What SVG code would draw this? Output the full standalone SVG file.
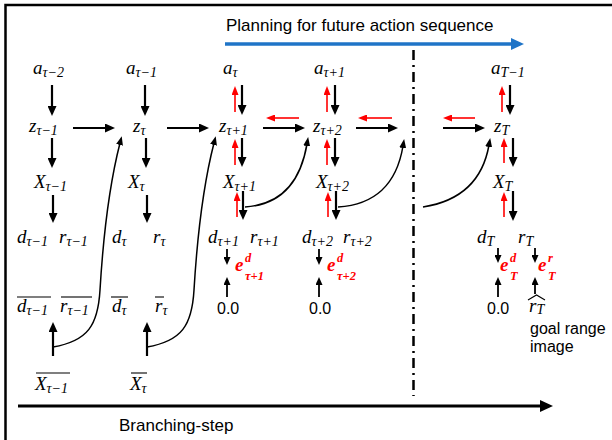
<svg xmlns="http://www.w3.org/2000/svg" width="612" height="440" viewBox="0 0 612 440">
<style>
.m{font-family:"Liberation Serif","Times New Roman",serif;font-style:italic;font-size:19px;fill:#000}
.s{font-size:14px}
.es{font-size:12.5px}
.red{fill:#ff0000}
.t{font-family:"Liberation Sans",Arial,sans-serif;font-size:16px;fill:#000}
.bk{stroke:#000;stroke-width:2.2;fill:none}
.sm{stroke:#000;stroke-width:1.8;fill:none}
.rd{stroke:#ff0000;stroke-width:1.6;fill:none}
.cv{stroke:#000;stroke-width:1.5;fill:none}
.ov{stroke:#000;stroke-width:1.1}
</style>
<defs>
<marker id="hb" markerUnits="userSpaceOnUse" viewBox="0 0 10 9" markerWidth="10" markerHeight="9" refX="2" refY="4.5" orient="auto"><path d="M0,0 L10,4.5 L0,9 z" fill="#000"/></marker>
<marker id="hr" markerUnits="userSpaceOnUse" viewBox="0 0 9 7" markerWidth="9" markerHeight="7" refX="2" refY="3.5" orient="auto"><path d="M0,0 L9,3.5 L0,7 z" fill="#ff0000"/></marker>
<marker id="hm" markerUnits="userSpaceOnUse" viewBox="0 0 8 7" markerWidth="8" markerHeight="7" refX="2" refY="3.5" orient="auto"><path d="M0,0 L8,3.5 L0,7 z" fill="#000"/></marker>
<marker id="hs" markerUnits="userSpaceOnUse" viewBox="0 0 9 7" markerWidth="9" markerHeight="7" refX="2" refY="3.5" orient="auto"><path d="M0,0 L9,3.5 L0,7 z" fill="#000"/></marker>
</defs>
<rect width="612" height="440" fill="#fff"/>
<path d="M5.5,440 V5 H612" stroke="#000" stroke-width="2.5" fill="none"/>

<g id="planning">
<text class="t" x="226" y="31" style="font-size:17px">Planning for future action sequence</text>
<line x1="225" y1="44" x2="512" y2="44" stroke="#1f74c7" stroke-width="3.5"/>
<polygon points="511,38 524,44 511,50" fill="#1f74c7"/>
</g>
<g id="branching">
<line x1="18" y1="406" x2="541" y2="406" stroke="#000" stroke-width="3"/>
<polygon points="540,400 553,406 540,412" fill="#000"/>
<text class="t" x="119" y="431" style="font-size:17px">Branching-step</text>
</g>
<g id="separator">
<line x1="413.5" y1="50" x2="413.5" y2="396" stroke="#000" stroke-width="2.5" stroke-dasharray="10 5 2 5"/>
</g>

<g id="a_tau-2"><text class="m" x="33" y="74">a<tspan class="s" dy="3">τ−2</tspan></text></g>
<g id="a_tau-1"><text class="m" x="126" y="74">a<tspan class="s" dy="3">τ−1</tspan></text></g>
<g id="a_tau"><text class="m" x="223" y="74">a<tspan class="s" dy="3">τ</tspan></text></g>
<g id="a_tau+1"><text class="m" x="314" y="74">a<tspan class="s" dy="3">τ+1</tspan></text></g>
<g id="a_T-1"><text class="m" x="491" y="74">a<tspan class="s" dy="3">T−1</tspan></text></g>

<g id="z_tau-1"><text class="m" x="29" y="132">z<tspan class="s" dy="3">τ−1</tspan></text></g>
<g id="z_tau"><text class="m" x="133" y="132">z<tspan class="s" dy="3">τ</tspan></text></g>
<g id="z_tau+1"><text class="m" x="219" y="132">z<tspan class="s" dy="3">τ+1</tspan></text></g>
<g id="z_tau+2"><text class="m" x="313" y="132">z<tspan class="s" dy="3">τ+2</tspan></text></g>
<g id="z_T"><text class="m" x="494" y="132">z<tspan class="s" dy="3">T</tspan></text></g>

<g id="X_tau-1"><text class="m" x="34" y="188">X<tspan class="s" dy="3">τ−1</tspan></text></g>
<g id="X_tau"><text class="m" x="128" y="188">X<tspan class="s" dy="3">τ</tspan></text></g>
<g id="X_tau+1"><text class="m" x="223" y="188">X<tspan class="s" dy="3">τ+1</tspan></text></g>
<g id="X_tau+2"><text class="m" x="316" y="188">X<tspan class="s" dy="3">τ+2</tspan></text></g>
<g id="X_T"><text class="m" x="493" y="188">X<tspan class="s" dy="3">T</tspan></text></g>

<g id="d_tau-1"><text class="m" x="17" y="243">d<tspan class="s" dy="3">τ−1</tspan></text></g>
<g id="r_tau-1"><text class="m" x="59" y="243">r<tspan class="s" dy="3">τ−1</tspan></text></g>
<g id="d_tau"><text class="m" x="112" y="243">d<tspan class="s" dy="3">τ</tspan></text></g>
<g id="r_tau"><text class="m" x="153" y="243">r<tspan class="s" dy="3">τ</tspan></text></g>
<g id="d_tau+1"><text class="m" x="208" y="243">d<tspan class="s" dy="3">τ+1</tspan></text></g>
<g id="r_tau+1"><text class="m" x="250" y="243">r<tspan class="s" dy="3">τ+1</tspan></text></g>
<g id="d_tau+2"><text class="m" x="302" y="243">d<tspan class="s" dy="3">τ+2</tspan></text></g>
<g id="r_tau+2"><text class="m" x="343" y="243">r<tspan class="s" dy="3">τ+2</tspan></text></g>
<g id="d_T"><text class="m" x="477" y="243">d<tspan class="s" dy="3">T</tspan></text></g>
<g id="r_T"><text class="m" x="518" y="243">r<tspan class="s" dy="3">T</tspan></text></g>

<g id="dbar_tau-1"><text class="m" x="17" y="312">d<tspan class="s" dy="3">τ−1</tspan></text><line class="ov" x1="17" y1="297" x2="51" y2="297"/></g>
<g id="rbar_tau-1"><text class="m" x="60" y="312">r<tspan class="s" dy="3">τ−1</tspan></text><line class="ov" x1="61" y1="297" x2="92" y2="297"/></g>
<g id="dbar_tau"><text class="m" x="112" y="312">d<tspan class="s" dy="3">τ</tspan></text><line class="ov" x1="111" y1="297" x2="128" y2="297"/></g>
<g id="rbar_tau"><text class="m" x="155" y="312">r<tspan class="s" dy="3">τ</tspan></text><line class="ov" x1="155" y1="297" x2="164" y2="297"/></g>
<g id="Xbar_tau-1"><text class="m" x="35" y="390">X<tspan class="s" dy="3">τ−1</tspan></text><line class="ov" x1="36" y1="373" x2="70" y2="373"/></g>
<g id="Xbar_tau"><text class="m" x="130" y="390">X<tspan class="s" dy="3">τ</tspan></text><line class="ov" x1="131" y1="373" x2="147" y2="373"/></g>

<g id="ed_tau+1"><text class="m red" x="235" y="271" font-weight="bold">e</text><text class="m red es" x="245" y="262" font-weight="bold">d</text><text class="m red es" x="245" y="280" font-weight="bold">τ+1</text></g>
<g id="ed_tau+2"><text class="m red" x="327" y="271" font-weight="bold">e</text><text class="m red es" x="337" y="262" font-weight="bold">d</text><text class="m red es" x="337" y="280" font-weight="bold">τ+2</text></g>
<g id="ed_T"><text class="m red" x="500" y="271" font-weight="bold">e</text><text class="m red es" x="510" y="262" font-weight="bold">d</text><text class="m red es" x="510" y="280" font-weight="bold">T</text></g>
<g id="er_T"><text class="m red" x="538" y="271" font-weight="bold">e</text><text class="m red es" x="548" y="262" font-weight="bold">r</text><text class="m red es" x="548" y="280" font-weight="bold">T</text></g>

<g id="zero_tau+1"><text class="t" x="217" y="314">0.0</text></g>
<g id="zero_tau+2"><text class="t" x="309" y="314">0.0</text></g>
<g id="zero_T"><text class="t" x="487" y="314">0.0</text></g>
<g id="rhat_T"><text class="m" x="529" y="312">r<tspan class="s" dy="2">T</tspan></text><polyline points="528,300 536.5,295 545,300" fill="none" stroke="#000" stroke-width="1.1"/><text class="t" x="530" y="334">goal range</text><text class="t" x="530" y="352">image</text></g>

<g id="connectors">
<line class="bk" x1="52" y1="85" x2="52" y2="108" marker-end="url(#hb)"/>
<line class="bk" x1="52" y1="138" x2="52" y2="160" marker-end="url(#hb)"/>
<line class="bk" x1="53" y1="195" x2="53" y2="215" marker-end="url(#hb)"/>
<line class="bk" x1="145" y1="85" x2="145" y2="108" marker-end="url(#hb)"/>
<line class="bk" x1="146" y1="138" x2="146" y2="160" marker-end="url(#hb)"/>
<line class="bk" x1="147" y1="195" x2="147" y2="215" marker-end="url(#hb)"/>
<line class="bk" x1="242" y1="85" x2="242" y2="107" marker-end="url(#hb)"/>
<line class="bk" x1="242" y1="138" x2="242" y2="159" marker-end="url(#hb)"/>
<line class="bk" x1="243" y1="191" x2="243" y2="212" marker-end="url(#hb)"/>
<line class="bk" x1="335" y1="85" x2="335" y2="107" marker-end="url(#hb)"/>
<line class="bk" x1="335" y1="138" x2="335" y2="159" marker-end="url(#hb)"/>
<line class="bk" x1="336" y1="191" x2="336" y2="212" marker-end="url(#hb)"/>
<line class="bk" x1="510" y1="85" x2="510" y2="107" marker-end="url(#hb)"/>
<line class="bk" x1="513" y1="138" x2="513" y2="159" marker-end="url(#hb)"/>
<line class="bk" x1="513" y1="191" x2="513" y2="213" marker-end="url(#hb)"/>
<line class="rd" x1="235" y1="112" x2="235" y2="93" marker-end="url(#hr)"/>
<line class="rd" x1="235" y1="165" x2="235" y2="146" marker-end="url(#hr)"/>
<line class="rd" x1="237" y1="217" x2="237" y2="199" marker-end="url(#hr)"/>
<line class="rd" x1="327" y1="112" x2="327" y2="93" marker-end="url(#hr)"/>
<line class="rd" x1="327" y1="165" x2="327" y2="146" marker-end="url(#hr)"/>
<line class="rd" x1="328" y1="217" x2="328" y2="199" marker-end="url(#hr)"/>
<line class="rd" x1="502" y1="112" x2="502" y2="93" marker-end="url(#hr)"/>
<line class="rd" x1="504" y1="163" x2="504" y2="145" marker-end="url(#hr)"/>
<line class="rd" x1="504" y1="217" x2="504" y2="199" marker-end="url(#hr)"/>
<line class="bk" x1="73" y1="128" x2="107" y2="128" marker-end="url(#hb)"/>
<line class="bk" x1="167" y1="128" x2="201" y2="128" marker-end="url(#hb)"/>
<line class="bk" x1="263" y1="128" x2="297" y2="128" marker-end="url(#hb)"/>
<line class="bk" x1="356" y1="128" x2="390" y2="128" marker-end="url(#hb)"/>
<line class="bk" x1="443" y1="128" x2="477" y2="128" marker-end="url(#hb)"/>
<line class="rd" x1="299" y1="118" x2="273" y2="118" marker-end="url(#hr)"/>
<line class="rd" x1="392" y1="118" x2="365" y2="118" marker-end="url(#hr)"/>
<line class="rd" x1="475" y1="118" x2="450" y2="118" marker-end="url(#hr)"/>
<line class="sm" x1="227" y1="249" x2="227" y2="259" marker-end="url(#hm)"/>
<line class="sm" x1="319" y1="249" x2="319" y2="259" marker-end="url(#hm)"/>
<line class="sm" x1="498" y1="248" x2="498" y2="257" marker-end="url(#hm)"/>
<line class="sm" x1="535" y1="248" x2="535" y2="257" marker-end="url(#hm)"/>
<line class="sm" x1="227" y1="297" x2="227" y2="283" marker-end="url(#hm)"/>
<line class="sm" x1="319" y1="297" x2="319" y2="283" marker-end="url(#hm)"/>
<line class="sm" x1="498" y1="297" x2="498" y2="283" marker-end="url(#hm)"/>
<line class="sm" x1="535" y1="294" x2="535" y2="283" marker-end="url(#hm)"/>
<line class="bk" x1="53" y1="356" x2="53" y2="330" marker-end="url(#hb)"/>
<line class="bk" x1="147" y1="356" x2="147" y2="330" marker-end="url(#hb)"/>
<path class="cv" d="M53,347 C88,341 98,325 100,290 C103,240 108,190 120,143" marker-end="url(#hs)"/>
<path class="cv" d="M147,347 C182,341 192,325 194,290 C197,240 202,190 214,143" marker-end="url(#hs)"/>
<path class="cv" d="M245,207 C278,205 300,185 307,144" marker-end="url(#hs)"/>
<path class="cv" d="M338,207 C371,205 396,188 403,146" marker-end="url(#hs)"/>
<path class="cv" d="M423,207 C455,202 482,185 489,145" marker-end="url(#hs)"/>
</g>
</svg>
